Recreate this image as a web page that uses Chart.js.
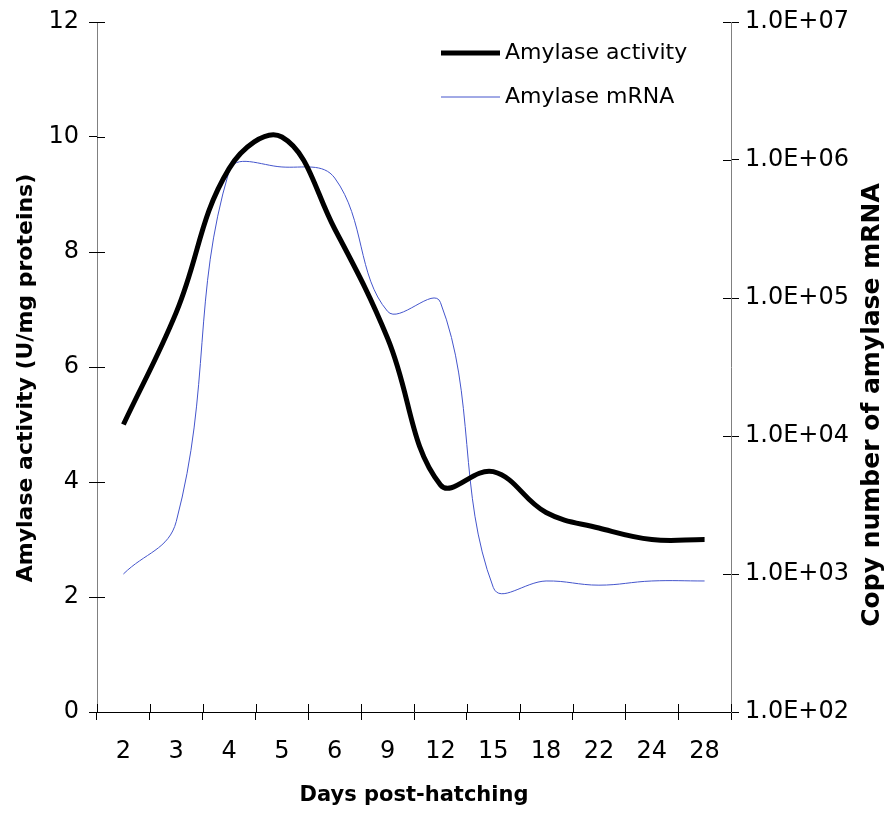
<!DOCTYPE html>
<html>
<head>
<meta charset="utf-8">
<script src="https://cdn.jsdelivr.net/npm/chart.js@4.4.1/dist/chart.umd.min.js"></script>
<style>
  html, body { margin: 0; padding: 0; background: #fff; }
  #wrap { width: 890px; height: 818px; }
</style>
</head>
<body>
<div id="wrap"><canvas id="chart" width="890" height="818"></canvas></div>
<script>
// days post-hatching (category axis)
const days = ['2', '3', '4', '5', '6', '9', '12', '15', '18', '22', '24', '28'];
// amylase activity, U/mg proteins (left axis)
const activity = [5.0, 6.95, 9.45, 10.0, 8.4, 6.5, 3.95, 4.18, 3.47, 3.2, 3.0, 3.0];
// copy number of amylase mRNA (right log axis)
const mrna = [1.0e3, 2.4e3, 8.3e5, 8.9e5, 7.4e5, 8.0e4, 9.3e4, 8.0e2, 8.9e2, 8.3e2, 8.9e2, 8.9e2];
const leftTicks = [0, 2, 4, 6, 8, 10, 12];
const rightTicks = [1e2, 1e3, 1e4, 1e5, 1e6, 1e7];

const FONT = "'DejaVu Sans', Verdana, sans-serif";

function sci(v) {
  const e = Math.round(Math.log10(v));
  return '1.0E+' + String(e).padStart(2, '0');
}

// tick marks in Excel cross the axis, chart.js only draws the outer half
const crossTicks = {
  id: 'crossTicks',
  afterDatasetsDraw(chart) {
    const { ctx, chartArea: a, scales } = chart;
    const len = 8;
    ctx.save();
    ctx.lineWidth = 1;
    ctx.strokeStyle = '#000';
    ctx.beginPath();
    scales.y.ticks.forEach((t, i) => {
      const p = Math.round(scales.y.getPixelForTick(i)) + 0.5;
      ctx.moveTo(a.left, p); ctx.lineTo(a.left + len, p);
    });
    scales.y2.ticks.forEach((t, i) => {
      const p = Math.round(scales.y2.getPixelForTick(i)) + 0.5;
      ctx.moveTo(a.right, p); ctx.lineTo(a.right - len, p);
    });
    for (let i = 0; i <= days.length; i++) {
      const p = Math.round(scales.x.getPixelForValue(i - 0.5)) + 0.5;
      ctx.moveTo(p, a.bottom); ctx.lineTo(p, a.bottom - len);
    }
    ctx.stroke();
    ctx.restore();
  }
};

// legend inside the plot, top right, two rows
const innerLegend = {
  id: 'innerLegend',
  afterDraw(chart) {
    const { ctx } = chart;
    const x0 = 441, x1 = 500, rows = [53, 97];
    ctx.save();
    chart.data.datasets.forEach((ds, i) => {
      const y = rows[i];
      ctx.beginPath();
      ctx.strokeStyle = ds.borderColor;
      ctx.lineWidth = ds.borderWidth;
      ctx.moveTo(x0, y); ctx.lineTo(x1, y);
      ctx.stroke();
      ctx.fillStyle = '#000';
      ctx.font = '22px ' + FONT;
      ctx.textBaseline = 'middle';
      ctx.textAlign = 'left';
      ctx.fillText(ds.label, x1 + 5, y);
    });
    ctx.restore();
  }
};

// vertical axis titles, both read bottom to top
const sideTitles = {
  id: 'sideTitles',
  afterDraw(chart) {
    const { ctx } = chart;
    const items = [
      { text: 'Amylase activity (U/mg proteins)', x: 26, y: 378, size: 22 },
      { text: 'Copy number of amylase mRNA', x: 872, y: 405, size: 25 }
    ];
    ctx.save();
    ctx.fillStyle = '#000';
    ctx.textAlign = 'center';
    ctx.textBaseline = 'middle';
    items.forEach((it) => {
      ctx.save();
      ctx.font = 'bold ' + it.size + 'px ' + FONT;
      ctx.translate(it.x, it.y);
      ctx.rotate(-Math.PI / 2);
      ctx.fillText(it.text, 0, 0);
      ctx.restore();
    });
    ctx.restore();
  }
};

const ctx = document.getElementById('chart').getContext('2d');
new Chart(ctx, {
  type: 'line',
  data: {
    labels: days,
    datasets: [{
      label: 'Amylase activity',
      data: activity,
      borderColor: '#000000',
      borderWidth: 5,
      pointRadius: 0,
      tension: 0.4,
      yAxisID: 'y',
    }, {
      label: 'Amylase mRNA',
      data: mrna,
      borderColor: '#4455cc',
      borderWidth: 1,
      pointRadius: 0,
      tension: 0.4,
      yAxisID: 'y2',
    }],
  },
  options: {
    responsive: false,
    animation: false,
    layout: { padding: { top: 20, left: 0, right: 0, bottom: 0 } },
    plugins: {
      legend: { display: false },
      tooltip: { enabled: false },
    },
    scales: {
      x: {
        offset: true,
        grid: { offset: true, drawOnChartArea: false, tickLength: 8, color: '#000' },
        border: { color: '#000' },
        ticks: { color: '#000', padding: 17, font: { family: FONT, size: 24 }, maxRotation: 0 },
        title: {
          display: true,
          text: 'Days post-hatching',
          color: '#000',
          font: { family: FONT, size: 21, weight: 'bold' },
          padding: { top: 0, bottom: 10 },
        },
        afterFit(scale) { scale.height = 106; },
      },
      y: {
        position: 'left',
        min: 0,
        max: 12,
        afterBuildTicks(scale) { scale.ticks = leftTicks.map((v) => ({ value: v })); },
        grid: { drawOnChartArea: false, tickLength: 8, color: '#000' },
        border: { color: '#808080' },
        ticks: { color: '#000', padding: 10, font: { family: FONT, size: 24, lineHeight: 1 } },
        afterFit(scale) { scale.width = 97; },
      },
      y2: {
        type: 'logarithmic',
        position: 'right',
        min: 1e2,
        max: 1e7,
        afterBuildTicks(scale) { scale.ticks = rightTicks.map((v) => ({ value: v })); },
        grid: { drawOnChartArea: false, tickLength: 8, color: '#000' },
        border: { color: '#808080' },
        ticks: { color: '#000', padding: 6, font: { family: FONT, size: 24, lineHeight: 1 }, callback: (v) => sci(v) },
        afterFit(scale) { scale.width = 159; },
      },
    },
  },
  plugins: [crossTicks, innerLegend, sideTitles],
});
</script>
</body>
</html>
